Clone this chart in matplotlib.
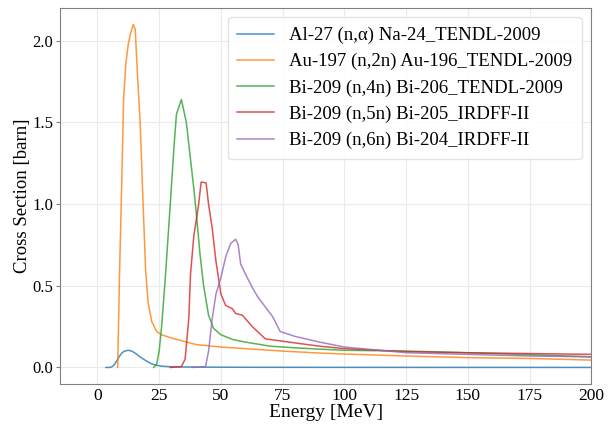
import matplotlib
matplotlib.use('Agg')
import matplotlib.pyplot as plt

plt.rcParams['font.family'] = ['Liberation Serif', 'DejaVu Serif']

labels = [
    'Al-27 (n,α) Na-24_TENDL-2009',
    'Au-197 (n,2n) Au-196_TENDL-2009',
    'Bi-209 (n,4n) Bi-206_TENDL-2009',
    'Bi-209 (n,5n) Bi-205_IRDFF-II',
    'Bi-209 (n,6n) Bi-204_IRDFF-II',
]

# Al-27 (n,a)
e_al = [3.4, 5, 6, 7, 8, 9, 10, 11, 12.5, 14, 15, 16, 17, 18.5, 20, 22, 24, 26, 30, 40, 60, 100, 150, 200]
xs_al = [0, 0, 0.005, 0.02, 0.045, 0.07, 0.09, 0.1, 0.105, 0.1, 0.09, 0.08, 0.068, 0.052, 0.038, 0.022, 0.013, 0.008, 0.004, 0.002, 0.001, 0.0005, 0.0002, 0.0001]
# Au-197 (n,2n)
e_au = [8.2, 9.0, 9.8, 10.6, 11.5, 12.5, 13.5, 14.5, 15.3, 16.2, 17.3, 18.5, 19.5, 20.5, 22, 24, 26, 30, 35, 40, 50, 60, 75, 90, 100, 125, 150, 175, 200]
xs_au = [0, 0.6, 1.1, 1.64, 1.86, 1.98, 2.05, 2.1, 2.07, 1.8, 1.5, 1.0, 0.6, 0.4, 0.28, 0.22, 0.2, 0.18, 0.16, 0.14, 0.125, 0.115, 0.1, 0.088, 0.082, 0.07, 0.06, 0.055, 0.045]
# Bi-209 (n,4n)
e_bi6 = [22.8, 24, 25, 26, 27.5, 29.5, 31, 32, 34, 36, 37.5, 39, 40, 41.5, 43, 45, 47, 50, 55, 60, 70, 80, 90, 100, 125, 150, 175, 200]
xs_bi6 = [0, 0.02, 0.1, 0.25, 0.55, 1.0, 1.35, 1.55, 1.64, 1.5, 1.3, 1.1, 0.95, 0.7, 0.5, 0.32, 0.24, 0.2, 0.17, 0.155, 0.13, 0.12, 0.112, 0.105, 0.1, 0.09, 0.078, 0.065]
# Bi-209 (n,5n)
e_bi5 = [29.5, 34, 35.5, 37, 37.7, 39, 41, 42, 44, 45, 46.5, 48, 50, 51.9, 54.6, 56, 58.7, 62.7, 68, 77.6, 90, 100, 125, 150, 175, 200]
xs_bi5 = [0, 0.005, 0.05, 0.3, 0.57, 0.8, 1.0, 1.135, 1.13, 1.0, 0.85, 0.65, 0.45, 0.38, 0.36, 0.33, 0.32, 0.25, 0.175, 0.155, 0.13, 0.115, 0.097, 0.09, 0.085, 0.08]
# Bi-209 (n,6n)
e_bi4 = [38.4, 43.8, 45, 46.5, 48, 50, 52, 54, 56, 57, 58, 60, 62.7, 65, 68, 71, 74, 80, 90, 100, 125, 150, 175, 200]
xs_bi4 = [0, 0.005, 0.1, 0.3, 0.45, 0.55, 0.68, 0.76, 0.785, 0.75, 0.633, 0.57, 0.49, 0.43, 0.37, 0.31, 0.22, 0.19, 0.155, 0.125, 0.09, 0.08, 0.07, 0.065]

energies = [e_al, e_au, e_bi6, e_bi5, e_bi4]
xsecs = [xs_al, xs_au, xs_bi6, xs_bi5, xs_bi4]
colors = ['#1f77b4', '#ff7f0e', '#2ca02c', '#d62728', '#9467bd']

fig, ax = plt.subplots(figsize=(6.16, 4.25), dpi=100)
for e, xs, c, lab in zip(energies, xsecs, colors, labels):
    ax.plot(e, xs, color=c, lw=1.1, alpha=0.8, label=lab)

ax.set_xlim(-15, 200)
ax.set_ylim(-0.1, 2.2)
ax.set_xticks([0, 25, 50, 75, 100, 125, 150, 175, 200])
ax.set_yticks([0.0, 0.5, 1.0, 1.5, 2.0])
ax.grid(True, color='#ebebeb', lw=0.8)
ax.set_axisbelow(True)
for s in ax.spines.values():
    s.set_color('#808080')
ax.tick_params(axis='y', length=3, width=0.8, color='#808080', labelsize=12, pad=2)
ax.tick_params(axis='x', length=0, labelsize=12.5, pad=3)
ax.set_xlabel('Energy [MeV]', fontsize=14, labelpad=0)
ax.set_ylabel('Cross Section [barn]', fontsize=13.5, labelpad=1)
ax.legend(loc='upper right', fontsize=13.5, handlelength=2.0, handletextpad=0.8,
          framealpha=0.9, edgecolor='#e0e0e0', borderpad=0.5, labelspacing=0.48)

fig.subplots_adjust(left=0.098, right=0.96, top=0.981, bottom=0.097)
fig.savefig('out.png')
